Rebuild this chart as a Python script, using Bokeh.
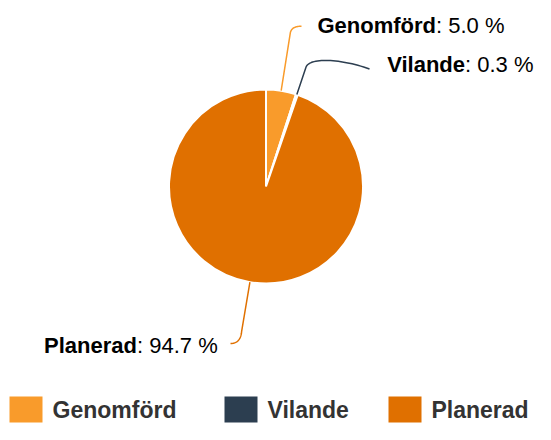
import math
from bokeh.plotting import figure
from bokeh.models import Range1d
from bokeh.core.properties import value
from bokeh.embed import file_html
from bokeh.resources import INLINE

# ---- data ----
categories = ["Genomförd", "Vilande", "Planerad"]
shares = [5.0, 0.3, 94.7]
colors = ["#f99b2b", "#2c3e50", "#e07000"]
value_labels = [": 5.0 %", ": 0.3 %", ": 94.7 %"]

# ---- layout (picture px; y measured from top) ----
W, H = 535, 424
def Y(y):
    return H - y

p = figure(width=W, height=H, x_range=Range1d(0, W), y_range=Range1d(0, H),
           output_backend="svg", toolbar_location=None, min_border=0)
p.axis.visible = False
p.grid.visible = False
p.outline_line_color = None
p.background_fill_color = "white"

cx, cy, R = 265.5, Y(186), 97.0

total = sum(shares)
starts, ends, mids = [], [], []
acc = 0.0
for s in shares:
    a0 = math.pi / 2 - acc / total * 2 * math.pi
    acc += s
    a1 = math.pi / 2 - acc / total * 2 * math.pi
    starts.append(a0)
    ends.append(a1)
    mids.append((a0 + a1) / 2)

p.wedge(x=cx, y=cy, radius=R, start_angle=starts, end_angle=ends, direction="clock",
        fill_color=colors, line_color="white", line_width=2)

# ---- connectors ----
knee_extra = [59, 29, 50]
tails = [  # control points after the knee, then end point (picture coords)
    [(291.5, 25.7), (301, 25.7)],
    [(309, 57), (340, 58), (369, 68.5)],
    [(240, 343), (230, 343)],
]

def bez(pts, n=30):
    out = []
    k = len(pts) - 1
    for i in range(n + 1):
        t = i / n
        if k == 2:
            (x0, y0), (x1, y1), (x2, y2) = pts
            x = (1 - t) ** 2 * x0 + 2 * (1 - t) * t * x1 + t ** 2 * x2
            y = (1 - t) ** 2 * y0 + 2 * (1 - t) * t * y1 + t ** 2 * y2
        else:
            (x0, y0), (x1, y1), (x2, y2), (x3, y3) = pts
            x = (1 - t) ** 3 * x0 + 3 * (1 - t) ** 2 * t * x1 + 3 * (1 - t) * t ** 2 * x2 + t ** 3 * x3
            y = (1 - t) ** 3 * y0 + 3 * (1 - t) ** 2 * t * y1 + 3 * (1 - t) * t ** 2 * y2 + t ** 3 * y3
        out.append((x, y))
    return out

xs_all, ys_all = [], []
for m, extra, tail in zip(mids, knee_extra, tails):
    ex, ey = cx + R * math.cos(m), cy + R * math.sin(m)
    kx, ky = cx + (R + extra) * math.cos(m), cy + (R + extra) * math.sin(m)
    curve = bez([(kx, ky)] + [(x, Y(y)) for x, y in tail])
    xs_all.append([ex] + [c[0] for c in curve])
    ys_all.append([ey] + [c[1] for c in curve])

p.multi_line(xs=xs_all, ys=ys_all, line_color=colors, line_width=1.5)

# ---- data labels (bold name right-aligned to anchor, value left-aligned) ----
anchors_x = [435.5, 464.5, 136.5]
anchors_y = [Y(24.5), Y(64), Y(344.5)]
font = value("Liberation Sans")
p.text(x=anchors_x, y=anchors_y, text=categories, text_align="right", text_baseline="middle",
       text_font=font, text_font_style="bold", text_font_size="22px", text_color="#000000")
p.text(x=anchors_x, y=anchors_y, text=value_labels, text_align="left", text_baseline="middle",
       text_font=font, text_font_size="22px", text_color="#000000")

# ---- legend ----
leg_sq_x = [25.5, 240.5, 404.5]
leg_txt_x = [52, 267, 431]
p.rect(x=leg_sq_x, y=[Y(409)] * 3, width=33, height=26, fill_color=colors, line_color=None)
p.text(x=leg_txt_x, y=[Y(409.5)] * 3, text=categories, text_align="left", text_baseline="middle",
       text_font=font, text_font_style="bold", text_font_size="23px", text_color="#333333")

open("out.html", "w").write(file_html(p, INLINE))
